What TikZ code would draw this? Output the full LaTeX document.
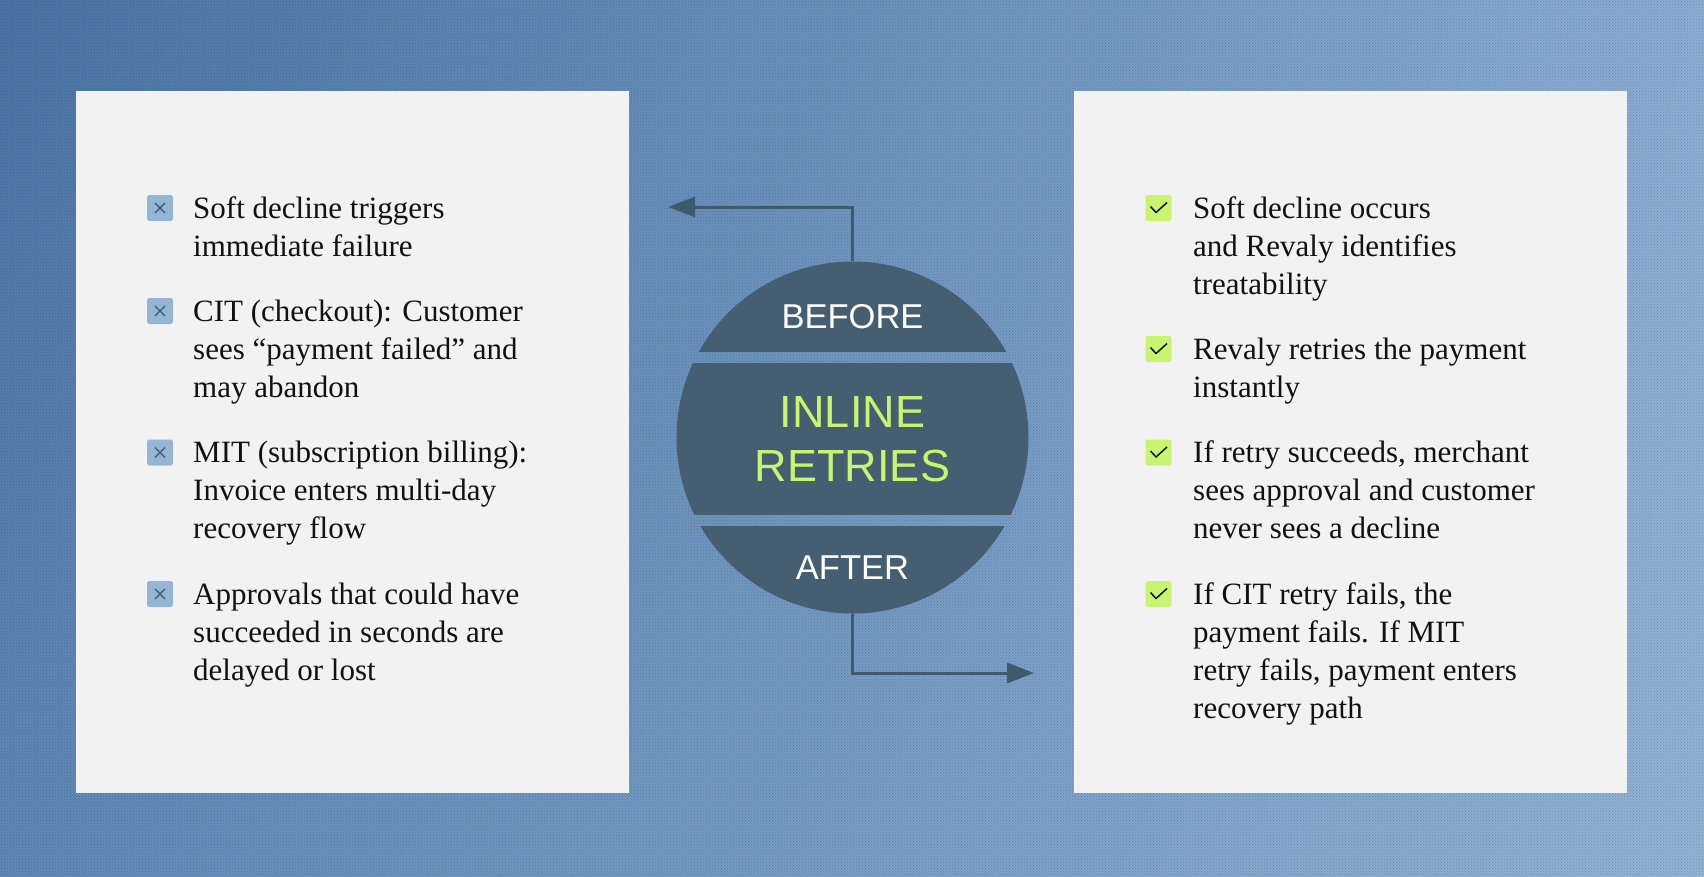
\documentclass[tikz,border=0pt]{standalone}
\usepackage{fontspec}
\setmainfont{Liberation Serif}
\newfontfamily\labelsans{Liberation Sans}
\usetikzlibrary{arrows.meta,patterns,shadings}
\definecolor{bgA}{HTML}{4A76A3}
\definecolor{bgB}{HTML}{608AB5}
\definecolor{bgC}{HTML}{8CAFD1}
\definecolor{bgD}{HTML}{93B4D2}
\definecolor{card}{HTML}{F2F2F2}
\definecolor{hub}{HTML}{465E71}
\definecolor{wire}{HTML}{3F5A6F}
\definecolor{lime}{HTML}{C9F46F}
\definecolor{xblue}{HTML}{94B6D4}
\definecolor{xmark}{HTML}{3E5870}
\definecolor{ink}{HTML}{111111}
\tikzset{
  panel/.style={fill=card, draw=none, minimum width=553pt, minimum height=702pt, inner sep=0pt},
  itemtext/.style={anchor=base west, align=left, inner sep=0pt, text=ink,
     font=\fontsize{31}{38}\selectfont},
  xicon/.style={fill=xblue, rounded corners=2.5pt, minimum size=26pt, inner sep=0pt},
  vicon/.style={fill=lime, rounded corners=2.5pt, minimum size=26pt, inner sep=0pt},
  hubtag/.style={text=white, font=\labelsans\fontsize{34.5}{40}\selectfont, inner sep=0pt},
  hubtitle/.style={text=lime, align=center, font=\labelsans\fontsize{45}{54}\selectfont, inner sep=0pt},
  link/.style={draw=wire, line width=3pt, -{Triangle[length=27pt,width=20pt]}},
}
\newcommand{\xmk}[1]{\draw[xmark, line width=1.2pt] ([shift={(-5pt,-5pt)}]#1.center) -- ([shift={(5pt,5pt)}]#1.center) ([shift={(-5pt,5pt)}]#1.center) -- ([shift={(5pt,-5pt)}]#1.center);}
\newcommand{\vmk}[1]{\draw[ink, line width=1.5pt, line join=round] ([shift={(-8pt,1.5pt)}]#1.center) -- ([shift={(-2.5pt,-4.5pt)}]#1.center) -- ([shift={(8.5pt,5.5pt)}]#1.center);}
\begin{document}
\begin{tikzpicture}[x=1pt,y=-1pt]
\useasboundingbox (0,0) rectangle (1704,876);
\shade[upper left=bgA, lower left=bgB, upper right=bgC, lower right=bgD] (0,0) rectangle (1704,876);
\fill[pattern=crosshatch dots, pattern color=black!60!blue, opacity=0.22] (0,0) rectangle (1704,876);

% cards
\node[panel] (left) at (352.5,442) {};
\node[panel] (right) at (1350.5,442) {};

% hub circle
\node[circle, minimum size=352pt, inner sep=0pt] (hubc) at (852.5,437.5) {};
\begin{scope}
  \clip (852.5,437.5) circle (176);
  \fill[hub] (670,250) rectangle (1040,352);
  \fill[hub] (670,363) rectangle (1040,515);
  \fill[hub] (670,526) rectangle (1040,625);
\end{scope}
\node[hubtag, anchor=base] (before) at (852.5,328) {BEFORE};
\node[hubtag, anchor=base] (after) at (852.5,579) {AFTER};
\node[hubtitle, anchor=base] (title) at (852.5,481) {INLINE\\RETRIES};

% connectors
\coordinate (topbend) at (852.5,207);
\coordinate (topend) at (668,207);
\coordinate (botbend) at (852.5,673);
\coordinate (botend) at (1034,673);
\draw[link] (hubc.north) -- (topbend) -- (topend);
\draw[link] (hubc.south) -- (botbend) -- (botend);

% left items (anchor = baseline of last line)
\node[xicon] (lx1) at (160,208) {}; \xmk{lx1}
\node[xicon] (lx2) at (160,311) {}; \xmk{lx2}
\node[xicon] (lx3) at (160,452.5) {}; \xmk{lx3}
\node[xicon] (lx4) at (160,594) {}; \xmk{lx4}
\node[itemtext] (lt1) at (193,256) {Soft decline triggers\\immediate failure};
\node[itemtext] (lt2) at (193,397) {CIT (checkout): Customer\\sees “payment failed” and\\may abandon};
\node[itemtext] (lt3) at (193,538.5) {MIT (subscription billing):\\Invoice enters multi-day\\recovery flow};
\node[itemtext] (lt4) at (193,680) {Approvals that could have\\succeeded in seconds are\\delayed or lost};

% right items
\node[vicon] (rv1) at (1158.5,208) {}; \vmk{rv1}
\node[vicon] (rv2) at (1158.5,349) {}; \vmk{rv2}
\node[vicon] (rv3) at (1158.5,452.5) {}; \vmk{rv3}
\node[vicon] (rv4) at (1158.5,594) {}; \vmk{rv4}
\node[itemtext] (rt1) at (1193,294) {Soft decline occurs\\and Revaly identifies\\treatability};
\node[itemtext] (rt2) at (1193,397) {Revaly retries the payment\\instantly};
\node[itemtext] (rt3) at (1193,538.5) {If retry succeeds, merchant\\sees approval and customer\\never sees a decline};
\node[itemtext] (rt4) at (1193,718) {If CIT retry fails, the\\payment fails. If MIT\\retry fails, payment enters\\recovery path};
\end{tikzpicture}
\end{document}
